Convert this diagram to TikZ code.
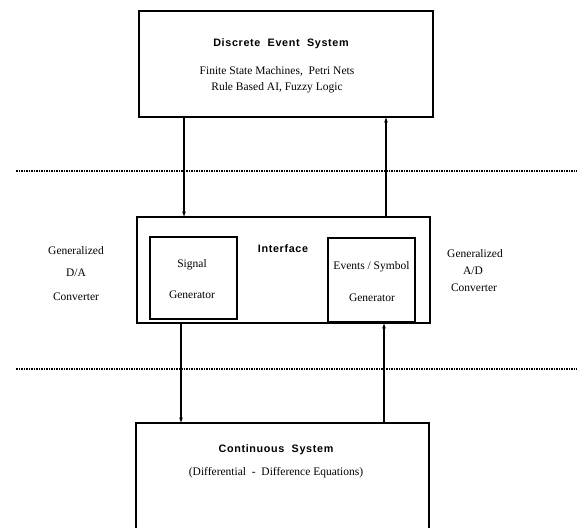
\documentclass[tikz,border=0pt]{standalone}
\usepackage{fontspec}
\setmainfont{Liberation Serif}
\newfontfamily\headfont[LetterSpace=6]{Liberation Sans Bold}
\usetikzlibrary{arrows.meta}

\begin{document}
\begin{tikzpicture}[x=1pt,y=-1pt,
  box/.style={draw, line width=1.1pt, inner sep=0pt},
  conn/.style={line width=1.2pt, -{Stealth[length=5pt,width=3.6pt]}},
  sep/.style={line width=1.4pt, dash pattern=on 1.5pt off 1pt},
  head/.style={font=\headfont\fontsize{10.8}{12}\selectfont, inner sep=0pt},
  body/.style={font=\fontsize{11.5}{13}\selectfont, inner sep=0pt, align=center}
]
\clip (0,0) rectangle (577,527);
\useasboundingbox (0,0) rectangle (577,527);

% level separators
\coordinate (s1w) at (16,171);  \coordinate (s1e) at (577,171);
\coordinate (s2w) at (16,369);  \coordinate (s2e) at (577,369);
\draw[sep] (s1w) -- (s1e);
\draw[sep] (s2w) -- (s2e);

% discrete event system
\node[box, minimum width=294pt, minimum height=106pt] (des) at (286,64) {};
\node[head] (deshead) at (281,44) {Discrete\ \ Event\ \ System};
\node[body] (deslist1) at (277,71) {Finite State Machines,\ \ Petri Nets};
\node[body] (deslist2) at (277,88) {Rule Based AI, Fuzzy Logic};

% interface layer
\node[box, minimum width=293pt, minimum height=106pt] (iface) at (283.5,270) {};
\node[head] (ifacehead) at (283,249) {Interface};
\node[box, minimum width=87pt, minimum height=82pt] (sig) at (193.5,278) {};
\node[body] (sig1) at (192,265) {Signal};
\node[body] (sig2) at (192,295) {Generator};
\node[box, minimum width=87pt, minimum height=84pt] (evt) at (371.5,280) {};
\node[body] (evt1) at (371.5,267) {Events / Symbol};
\node[body] (evt2) at (372,298) {Generator};

% converter labels
\node[body] (da1) at (76,251) {Generalized};
\node[body] (da2) at (76,273) {D/A};
\node[body] (da3) at (76,297) {Converter};
\node[body] (ad1) at (475,254) {Generalized};
\node[body] (ad2) at (473,271) {A/D};
\node[body] (ad3) at (474,288) {Converter};

% continuous system
\node[box, minimum width=293pt, minimum height=120pt] (cs) at (282.5,483) {};
\node[head] (cshead) at (276,450) {Continuous\ \ System};
\node[body] (cseq) at (276,473) {(Differential\ \ -\ \ Difference Equations)};

% signal paths
\coordinate (xa) at (184,0);
\coordinate (xb) at (386,0);
\coordinate (xc) at (181,0);
\coordinate (xd) at (384,0);
\draw[conn] (des.south -| xa) -- (iface.north -| xa);
\draw[conn] (iface.north -| xb) -- (des.south -| xb);
\draw[conn] (iface.south -| xc) -- (cs.north -| xc);
\draw[conn] (cs.north -| xd) -- (iface.south -| xd);
\end{tikzpicture}
\end{document}
